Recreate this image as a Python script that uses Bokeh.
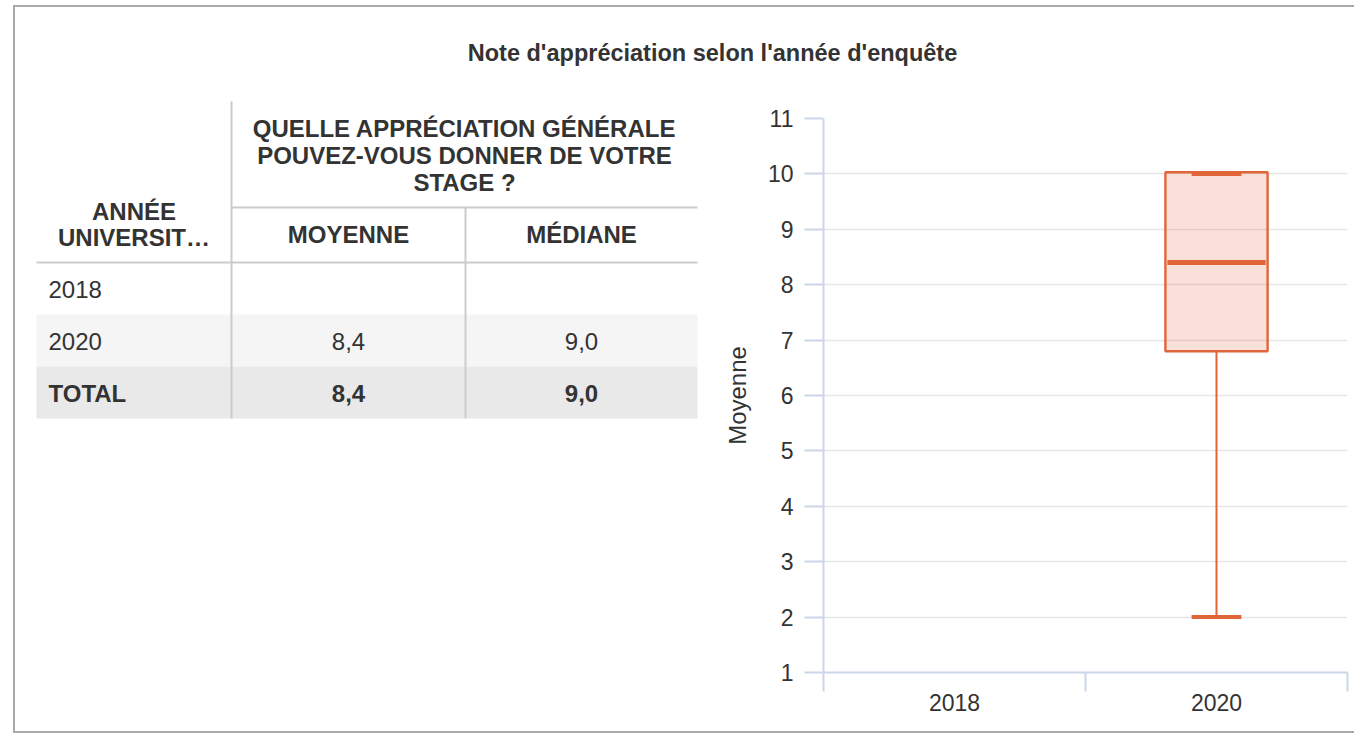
from bokeh.plotting import figure
from bokeh.models import Range1d, FixedTicker, ColumnDataSource
from bokeh.layouts import column, row
from bokeh.core.properties import value
from bokeh.embed import file_html
from bokeh.resources import INLINE

# ---------------- data ----------------
title_text = "Note d'appréciation selon l'année d'enquête"

# table
table_rows = ["2018", "2020", "TOTAL"]
table_moyenne = [None, 8.4, 8.4]
table_mediane = [None, 9.0, 9.0]
group_header = ["QUELLE APPRÉCIATION GÉNÉRALE", "POUVEZ-VOUS DONNER DE VOTRE", "STAGE ?"]
row_header = ["ANNÉE", "UNIVERSIT…"]
col_headers = ["MOYENNE", "MÉDIANE"]

# box plot (Moyenne by year)
years = ["2018", "2020"]
low = [None, 2.0]
q1 = [None, 6.8]
mean = [None, 8.4]
q3 = [None, 10.03]
high = [None, 10.0]
y_ticks = list(range(1, 12))
y_label = "Moyenne"

FONT = "Liberation Sans"
TXT = "#333333"
ORANGE = "#E2653A"
AXIS_C = "#ccd6eb"
DY = -9  # text baseline correction


def fmt(v):
    return "" if v is None else ("%.1f" % v).replace(".", ",")


def blank_fig(w, h):
    f = figure(width=w, height=h, x_range=Range1d(0, w), y_range=Range1d(h, 0),
               toolbar_location=None, output_backend="svg", min_border=0,
               outline_line_color=None, frame_align=False)
    f.axis.visible = False
    f.grid.visible = False
    return f


# ---------------- title ----------------
tfig = blank_fig(1339, 88)
tfig.text(x=[697], y=[45], text=[title_text], text_font=value(FONT),
          text_font_size="23.5px", text_font_style="bold", text_color=TXT,
          text_align="center", text_baseline="alphabetic")

# ---------------- table ----------------
tab = blank_fig(700, 636)
L, C1, C2, R = 21, 216, 450, 682
TOP, MID, HB = 6, 112, 167
RH = 52
row_tops = [HB + i * RH for i in range(len(table_rows))]
bgs = [None, "#f5f5f5", "#e9e9e9"]
for t, bg in zip(row_tops, bgs):
    if bg:
        tab.quad(left=[L], right=[R], top=[t], bottom=[t + RH], fill_color=bg, line_color=None)
bottom = row_tops[-1] + RH
LC = "#cccccc"
tab.segment(x0=[C1, C2, C1, L], y0=[TOP, MID, MID, HB], x1=[C1, C2, R, R], y1=[bottom, bottom, MID, HB],
            line_color=LC, line_width=2)

hdr_kw = dict(text_font=value(FONT), text_font_size="24px", text_font_style="bold",
              text_color=TXT, text_baseline="alphabetic")
gx = (C1 + R) / 2
tab.text(x=[gx] * 3, y=[42 + DY, 69 + DY, 96 + DY], text=group_header, text_align="center", **hdr_kw)
tab.text(x=[(L + C1) / 2] * 2, y=[125 + DY, 151 + DY], text=row_header, text_align="center", **hdr_kw)
tab.text(x=[(C1 + C2) / 2, (C2 + R) / 2], y=[147.5 + DY] * 2, text=col_headers, text_align="center", **hdr_kw)

for i, (name, mo, me) in enumerate(zip(table_rows, table_moyenne, table_mediane)):
    yb = row_tops[i] + 35.5 + DY
    style = "bold" if name == "TOTAL" else "normal"
    kw = dict(text_font=value(FONT), text_font_size="24px", text_font_style=style,
              text_color=TXT, text_baseline="alphabetic")
    tab.text(x=[33], y=[yb], text=[name], text_align="left", **kw)
    tab.text(x=[(C1 + C2) / 2, (C2 + R) / 2], y=[yb, yb], text=[fmt(mo), fmt(me)],
             text_align="center", **kw)

# ---------------- chart ----------------
cf = figure(width=639, height=636, x_range=Range1d(0, len(years)), y_range=Range1d(1, 11),
            toolbar_location=None, output_backend="svg",
            min_border_left=108, min_border_right=7, min_border_top=23, min_border_bottom=59,
            outline_line_color=None, frame_align=False)

idx = [i for i in range(len(years)) if q1[i] is not None]
src = ColumnDataSource(dict(
    x=[i + 0.5 for i in idx],
    low=[low[i] for i in idx], q1=[q1[i] for i in idx], mean=[mean[i] for i in idx],
    q3=[q3[i] for i in idx], high=[high[i] for i in idx],
))

cf.segment(x0="x", y0="low", x1="x", y1="q1", source=src, line_color=ORANGE, line_width=2)
cf.segment(x0="x", y0="q3", x1="x", y1="high", source=src, line_color=ORANGE, line_width=2)
cf.vbar(x="x", width=0.39, bottom="q1", top="q3", source=src,
        fill_color=ORANGE, fill_alpha=0.2, line_color=ORANGE, line_width=2.4)
cf.rect(x="x", y="mean", width=0.375, height=5, height_units="screen", source=src,
        fill_color=ORANGE, line_color=None)
cf.rect(x="x", y="high", width=0.19, height=4, height_units="screen", source=src,
        fill_color=ORANGE, line_color=None)
cf.rect(x="x", y="low", width=0.19, height=4, height_units="screen", source=src,
        fill_color=ORANGE, line_color=None)

cf.xgrid.grid_line_color = None
cf.ygrid.grid_line_color = "#e6e6e6"
cf.ygrid.grid_line_width = 1.5

ya = cf.yaxis[0]
ya.ticker = FixedTicker(ticks=y_ticks)
ya.axis_label = y_label
ya.axis_label_text_font = FONT
ya.axis_label_text_font_size = "24px"
ya.axis_label_text_font_style = "normal"
ya.axis_label_text_color = TXT
ya.axis_label_standoff = 14
ya.axis_line_color = AXIS_C
ya.axis_line_width = 2
ya.major_tick_line_color = AXIS_C
ya.major_tick_line_width = 2
ya.major_tick_out = 19
ya.major_tick_in = 0
ya.minor_tick_line_color = None
ya.major_label_standoff = 11
ya.major_label_text_font = FONT
ya.major_label_text_font_size = "23px"
ya.major_label_text_color = TXT

xa = cf.xaxis[0]
centers = [i + 0.5 for i in range(len(years))]
xa.ticker = FixedTicker(ticks=centers, minor_ticks=list(range(len(years) + 1)))
xa.major_label_overrides = {c: y for c, y in zip(centers, years)}
xa.axis_line_color = AXIS_C
xa.axis_line_width = 2
xa.major_tick_line_color = None
xa.major_tick_out = 19
xa.major_tick_in = 0
xa.minor_tick_line_color = AXIS_C
xa.minor_tick_line_width = 2
xa.minor_tick_out = 19
xa.minor_tick_in = 0
xa.major_label_standoff = 2
xa.major_label_text_font = FONT
xa.major_label_text_font_size = "23px"
xa.major_label_text_color = TXT

root = column(tfig, row(tab, cf),
              styles={"border-left": "2px solid #aaaaaa", "border-top": "2px solid #aaaaaa",
                      "border-bottom": "2px solid #aaaaaa", "margin-left": "13px",
                      "margin-top": "5px"})

open("out.html", "w").write(file_html(root, INLINE))
